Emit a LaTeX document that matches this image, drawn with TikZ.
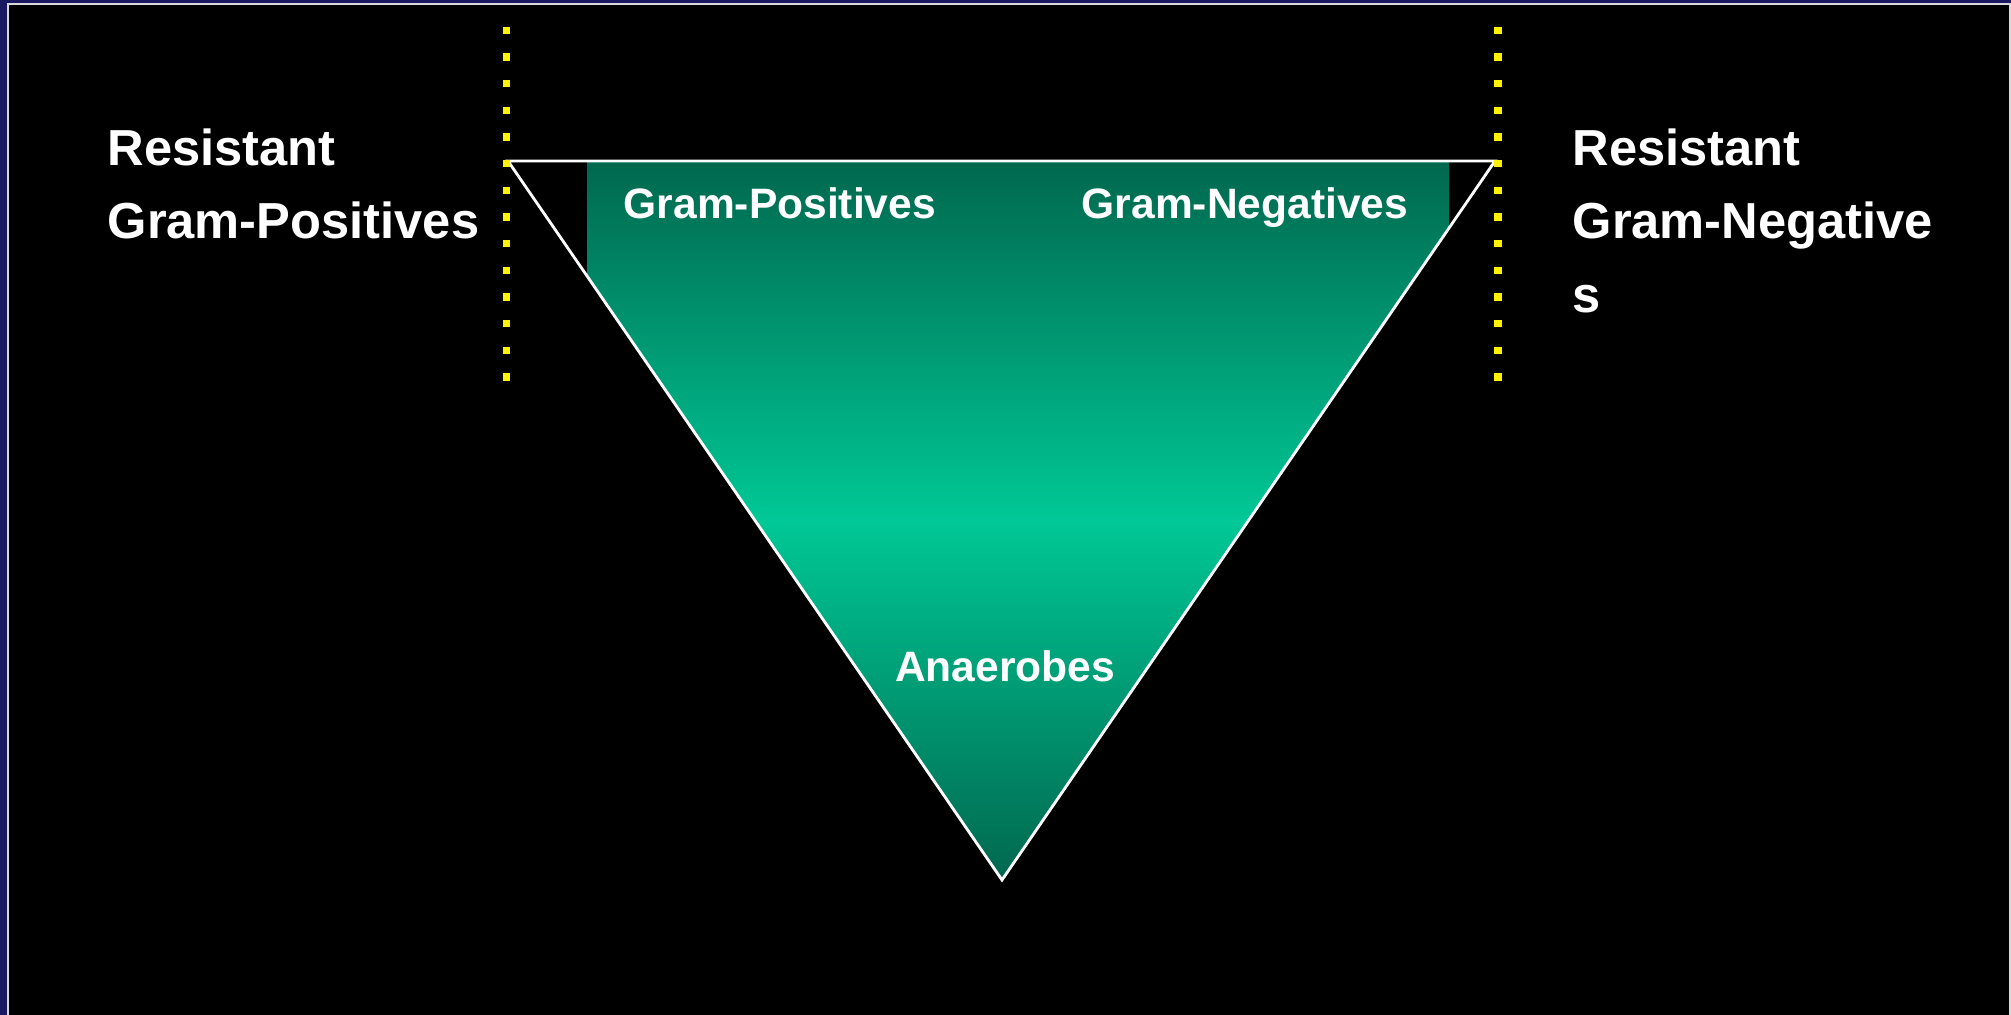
\documentclass[tikz,border=0pt]{standalone}
\usepackage{fontspec}
\setmainfont{Liberation Sans}
\usepackage{xcolor}
\usepackage{tikz}
\usetikzlibrary{positioning, calc}
\definecolor{myframe}{RGB}{26,24,96}
\definecolor{mygreen}{RGB}{0,104,78}
\definecolor{mybright}{RGB}{0,200,150}
\definecolor{myyellow}{RGB}{255,242,0}
\tikzset{
  biglabel/.style={font=\fontsize{14.4}{20.9}\selectfont\bfseries, text=white,
    align=left, inner sep=0pt, anchor=north west},
  innerlabel/.style={font=\fontsize{12.1}{14}\selectfont\bfseries, text=white,
    inner sep=0pt},
  outline/.style={draw=white, line width=0.8pt, line join=miter},
  ydot/.style={fill=myyellow}
}

\begin{document}
\begin{tikzpicture}[x=0.01cm, y=-0.01cm]
  \useasboundingbox (0,0) rectangle (2011,1015);

  % Slide background
  \fill[myframe] (0,0) rectangle (2011,1015);
  \draw[fill=black, draw=white!85!black, line width=0.6pt] (8,4) rectangle (2010,1040);

  % Triangle corners
  \coordinate (tl) at (508,161);
  \coordinate (tr) at (1495,161);
  \coordinate (tip) at (1002,880);

  % Green body, cut off at both sides
  \begin{scope}
    \clip (587,150) rectangle (1449,890);
    \shade[top color=mygreen, bottom color=mygreen, middle color=mybright]
      (tl) -- (tr) -- (tip) -- cycle;
  \end{scope}
  \draw[outline] (tl) -- (tr) -- (tip) -- cycle;

  % Yellow dotted lines
  \foreach \k in {0,...,13} {
    \fill[ydot] (502.5,{26.5+26.67*\k}) rectangle ++(7.5,7.5);
    \fill[ydot] (1494,{26.5+26.67*\k}) rectangle ++(7.5,7.5);
  }

  % Labels
  \node[biglabel] (lgp) at (107,128) {Resistant\\Gram-Positives};
  \node[biglabel] (rgn) at (1572,128) {Resistant\\Gram-Negative\\s};
  \node[innerlabel, anchor=base west] (gp) at (623,218) {Gram-Positives};
  \node[innerlabel, anchor=base west] (gn) at (1081,218) {Gram-Negatives};
  \node[innerlabel, anchor=base] (anaer) at (1005,681) {Anaerobes};
\end{tikzpicture}
\end{document}
